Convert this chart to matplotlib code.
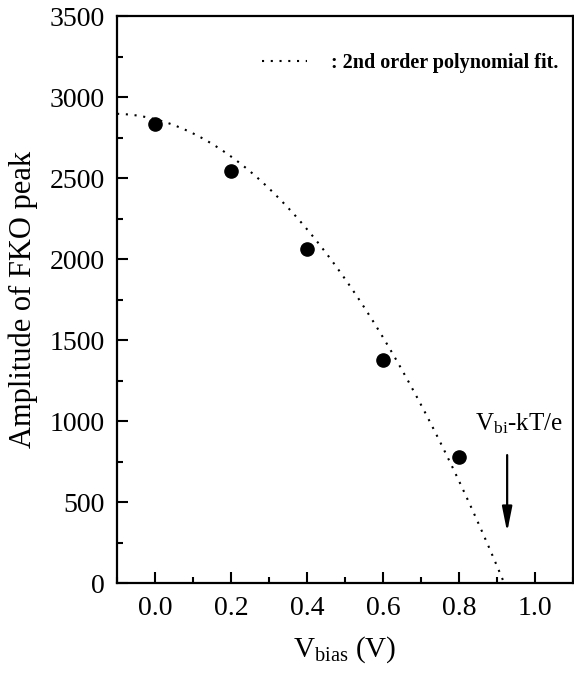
import numpy as np
import matplotlib
matplotlib.use("Agg")
import matplotlib.pyplot as plt
from matplotlib.ticker import MultipleLocator
from matplotlib.lines import Line2D

plt.rcParams["font.family"] = ["Liberation Serif", "DejaVu Serif"]
plt.rcParams["mathtext.fontset"] = "custom"
plt.rcParams["mathtext.rm"] = "Liberation Serif"
plt.rcParams["mathtext.it"] = "Liberation Serif:italic"

# Measured points
v_bias = [0.0, 0.2, 0.4, 0.6, 0.8]
amplitude = [2833, 2543, 2062, 1377, 778]

# 2nd order polynomial fit: a + b*x + c*x^2
fit_coef = [2864, -606, -2731]
fit_x_start = -0.1

# Arrow marking V_bi - kT/e
arrow_x = 0.927
arrow_y_top = 790
arrow_y_bottom = 315

x_ticks = [0.0, 0.2, 0.4, 0.6, 0.8, 1.0]
y_ticks = [0, 500, 1000, 1500, 2000, 2500, 3000, 3500]

fig = plt.figure(figsize=(5.74, 6.74), dpi=100)
ax = fig.add_axes([0.204, 0.135, 0.794, 0.841])

# fit curve, drawn until it hits zero
a, b, c = fit_coef
root = max(np.roots([c, b, a]))
xf = np.linspace(fit_x_start, root, 300)
yf = a + b * xf + c * xf ** 2
ax.plot(xf, yf, color="black", lw=1.5, linestyle=(0, (1, 3.2)))

ax.plot(v_bias, amplitude, "o", color="black", markersize=9.5)

ax.annotate("", xy=(arrow_x, arrow_y_bottom), xytext=(arrow_x, arrow_y_top),
            arrowprops=dict(arrowstyle="-|>,head_length=0.75,head_width=0.15",
                            color="black", lw=1.6, mutation_scale=20,
                            shrinkA=0, shrinkB=0))
ax.text(0.958, 945, r"V$_{\mathrm{bi}}$-kT/e", fontsize=18, ha="center",
        va="baseline")

handle = Line2D([], [], color="black", lw=1.5, linestyle=(0, (1, 3.2)))
leg = ax.legend([handle], [": 2nd order polynomial fit."], loc="upper right",
                bbox_to_anchor=(0.968, 0.935), frameon=False, borderpad=0,
                borderaxespad=0, handlelength=2.2, handletextpad=1.2,
                prop={"size": 14.5, "weight": "bold"})

ax.set_xlim(-0.1, 1.1)
ax.set_ylim(0, 3500)
ax.set_xticks(x_ticks)
ax.set_xticklabels([f"{t:.1f}" for t in x_ticks])
ax.set_yticks(y_ticks)
ax.xaxis.set_minor_locator(MultipleLocator(0.1))
ax.yaxis.set_minor_locator(MultipleLocator(250))
ax.tick_params(which="both", direction="in", width=1.5, labelsize=20)
ax.tick_params(which="major", length=8)
ax.tick_params(which="minor", length=4)
ax.tick_params(axis="x", pad=9)
ax.tick_params(axis="y", pad=9)
for s in ax.spines.values():
    s.set_linewidth(1.6)

ax.set_xlabel(r"V$_{\mathrm{bias}}$ (V)", fontsize=21, labelpad=10)
ax.set_ylabel("Amplitude of FKO peak", fontsize=22, labelpad=8)

fig.savefig("out.png", dpi=100)
